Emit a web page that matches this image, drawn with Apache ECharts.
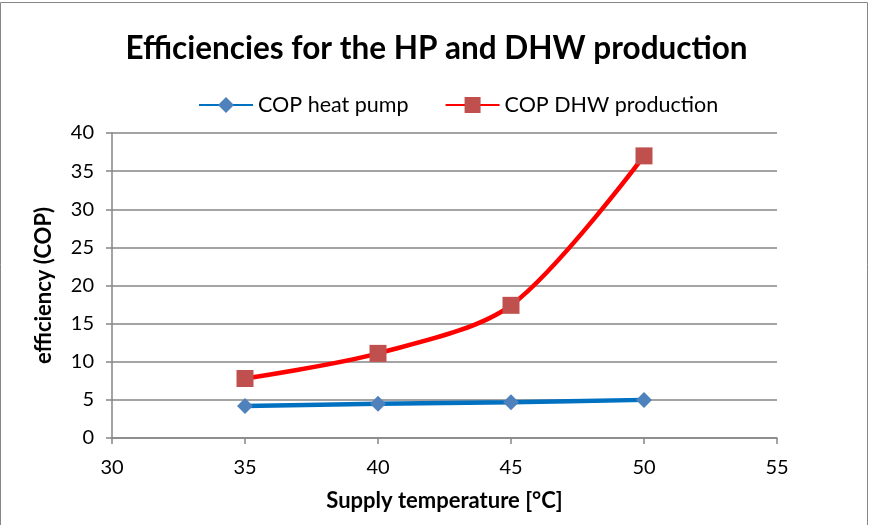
<!DOCTYPE html>
<html><head><meta charset="utf-8">
<script src="https://cdn.jsdelivr.net/npm/echarts@6/dist/echarts.min.js"></script>
<style>html,body{margin:0;padding:0;background:#fff}#c{width:873px;height:525px}</style>
</head><body><div id="c"></div>
<script>
const xValues = [35, 40, 45, 50];
const copHeatPump = [4.2, 4.5, 4.7, 5.0];
const copDHW = [7.8, 11.1, 17.4, 37.0];
const seriesNames = ['COP heat pump', 'COP DHW production'];

const FONT = 'Lato, "Open Sans", sans-serif';
const chart = echarts.init(document.getElementById('c'));
chart.setOption({
  animation: false,
  backgroundColor: '#fff',
  graphic: [{type:'rect', shape:{x:0.5,y:2.5,width:867,height:540}, style:{fill:'none', stroke:'#868686', lineWidth:1}, silent:true}],
  title: {text:'Efficiencies for the HP and DHW production', left:'center', top:28,
    textStyle:{fontFamily:FONT, fontSize:31.5, fontWeight:'bold', color:'#000'}},
  legend: {top:89, left:193, itemGap:36, itemWidth:54, itemHeight:20,
    textStyle:{fontFamily:FONT, fontSize:21.5, color:'#000'},
    data: seriesNames},
  grid: {left:112, right:96, top:133, bottom:87, containLabel:false},
  xAxis: {type:'value', min:30, max:55, interval:5,
    name:'Supply temperature [°C]', nameLocation:'middle', nameGap:52,
    nameTextStyle:{fontFamily:FONT, fontSize:22, fontWeight:'bold', color:'#000'},
    axisLine:{lineStyle:{color:'#868686', width:1.5}},
    axisTick:{show:true, length:6, lineStyle:{color:'#868686', width:1.5}},
    axisLabel:{fontFamily:FONT, fontSize:20, color:'#000', margin:20},
    splitLine:{show:false}},
  yAxis: {type:'value', min:0, max:40, interval:5,
    name:'efficiency (COP)', nameLocation:'middle', nameGap:57, nameRotate:90,
    nameTextStyle:{fontFamily:FONT, fontSize:22, fontWeight:'bold', color:'#000'},
    axisLine:{show:true, lineStyle:{color:'#868686', width:1.5}},
    axisTick:{show:true, length:6, lineStyle:{color:'#868686', width:1.5}},
    axisLabel:{fontFamily:FONT, fontSize:20, color:'#000', margin:18},
    splitLine:{lineStyle:{color:'#868686', width:1.5}}},
  series: [
    {name:seriesNames[0], type:'line', data:xValues.map((x,i)=>[x,copHeatPump[i]]),
     symbol:'diamond', symbolSize:16, smooth:0.3,
     lineStyle:{color:'#0070C0', width:4.5},
     itemStyle:{color:'#4F81BD'}},
    {name:seriesNames[1], type:'line', data:xValues.map((x,i)=>[x,copDHW[i]]),
     symbol:'rect', symbolSize:17, smooth:0.3,
     lineStyle:{color:'#FF0000', width:4.5},
     itemStyle:{color:'#C0504D'}}
  ]
});
</script></body></html>
